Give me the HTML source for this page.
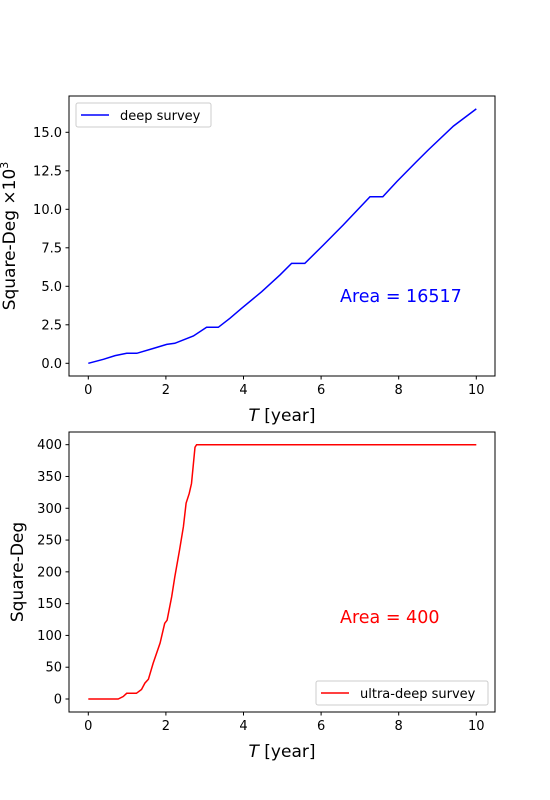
<!DOCTYPE html>
<html><head><meta charset="utf-8"><style>
body{margin:0;background:#fff;}
svg{display:block;font-family:"DejaVu Sans","Liberation Sans",sans-serif;}
</style></head><body>
<svg id="chart" width="550" height="800"></svg>
<script>
const deepT=[0,0.39,0.69,0.99,1.25,1.68,2.02,2.23,2.71,3.05,3.35,3.65,3.95,4.47,4.94,5.24,5.58,6.06,6.57,7.26,7.59,7.95,8.46,8.76,9.41,10];
const deepArea=[0,0.26,0.5,0.65,0.65,0.97,1.23,1.3,1.77,2.34,2.34,2.92,3.57,4.65,5.74,6.49,6.49,7.68,8.98,10.82,10.82,11.8,13.1,13.85,15.4,16.52];
const ultraT=[0,0.77,0.9,0.99,1.24,1.37,1.46,1.55,1.67,1.85,1.97,2.03,2.15,2.23,2.35,2.45,2.52,2.6,2.66,2.7,2.75,2.79,10];
const ultraArea=[0,0,4,9,9,15,25,31,56,88,119,124,161,192,234,271,308,323,339,365,396,400,400];
const xTicks=[0,2,4,6,8,10];
const deepYTicks=[0,2.5,5,7.5,10,12.5,15];
const deepYLabels=["0.0","2.5","5.0","7.5","10.0","12.5","15.0"];
const ultraYTicks=[0,50,100,150,200,250,300,350,400];

const NS="http://www.w3.org/2000/svg";
const svg=document.getElementById('chart');
function mk(tag,attrs,parent,text){const e=document.createElementNS(NS,tag);for(const k in attrs)e.setAttribute(k,attrs[k]);if(text!==undefined)e.textContent=text;(parent||svg).appendChild(e);return e;}

function panel(cfg){
  const g=mk('g',{});
  
  
  const L=69,R=495,T=cfg.top,B=cfg.bottom;
  const xs=v=>88.3+v*38.8;
  const ys=v=>cfg.y0-v*cfg.ppu;
  let d='';cfg.xs.forEach((t,i)=>{d+=(i?'L':'M')+xs(t).toFixed(1)+','+ys(cfg.ys[i]).toFixed(1);});
  const line=mk('path',{d:d,fill:'none',stroke:cfg.color,'stroke-width':1.5},g);
  
  
  const frame=mk('rect',{x:L,y:T,width:R-L,height:B-T,fill:'none',stroke:'#000','stroke-width':1},g);
  
  
  xTicks.forEach(t=>{
    mk('line',{x1:xs(t),x2:xs(t),y1:B,y2:B+3.5,stroke:'#000'},g);
    const lb=mk('text',{x:xs(t),y:B+18,'font-size':13,'text-anchor':'middle'},g,String(t));
    
    
  });
  cfg.yTicks.forEach((t,i)=>{
    mk('line',{x1:L-3.5,x2:L,y1:ys(t),y2:ys(t),stroke:'#000'},g);
    const lb=mk('text',{x:L-7,y:ys(t)+4.5,'font-size':13,'text-anchor':'end'},g,cfg.yLabels[i]);
    
    
  });
  const xl=mk('text',{x:282,y:B+45,'font-size':17,'text-anchor':'middle'},g);
  
  
  mk('tspan',{'font-style':'italic'},xl,'T');mk('tspan',{},xl,' [year]');
  const yl=mk('text',{transform:`translate(${cfg.ylx},${(T+B)/2}) rotate(-90)`,'font-size':17,'text-anchor':'middle'},g);
  
  
  mk('tspan',{},yl,cfg.ylabel);
  if(cfg.sup){mk('tspan',{'font-size':11,dy:-7},yl,cfg.sup);}
  const at=mk('text',{x:340,y:cfg.areaY,'font-size':17.5,fill:cfg.color},g,cfg.areaText);
  
  
  const lg=mk('g',{},g);
  
  
  mk('rect',{x:cfg.lx,y:cfg.ly,width:cfg.lw,height:24,rx:2,fill:'#fff',stroke:'#ccc'},lg);
  mk('line',{x1:cfg.lx+5,x2:cfg.lx+33,y1:cfg.ly+12,y2:cfg.ly+12,stroke:cfg.color,'stroke-width':1.5},lg);
  const lt=mk('text',{x:cfg.lx+44,y:cfg.ly+17,'font-size':13},lg,cfg.seriesLabel);
  
  
}
panel({name:'deep-survey-panel',top:96,bottom:376,y0:363.3,ppu:15.4,xs:deepT,ys:deepArea,yTicks:deepYTicks,yLabels:deepYLabels,color:'#0000ff',seriesName:'deep-survey-line',seriesLabel:'deep survey',ylabel:'Square-Deg ×10',sup:'3',ylx:15,areaText:'Area = 16517',areaY:302,lx:76,ly:103,lw:135});
panel({name:'ultra-deep-survey-panel',top:432,bottom:712,y0:699,ppu:0.6358,xs:ultraT,ys:ultraArea,yTicks:ultraYTicks,yLabels:ultraYTicks.map(String),color:'#ff0000',seriesName:'ultra-deep-survey-line',seriesLabel:'ultra-deep survey',ylabel:'Square-Deg',ylx:23,areaText:'Area = 400',areaY:623,lx:316,ly:681,lw:172});
</script>
</body></html>
